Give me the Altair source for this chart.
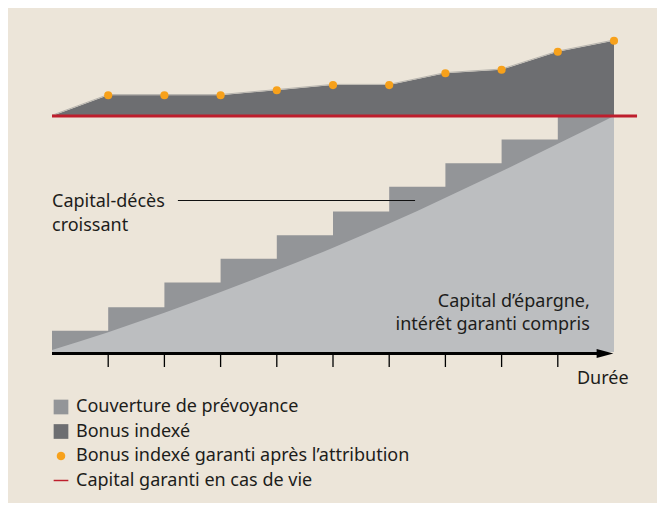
import math
import altair as alt
import pandas as pd

FONT = "Noto Sans"
TXT = "#1d1d1b"
BG = "#ece5d9"
FS = 18

# ---- data ----
periods = list(range(11))                       # Durée 0..10
couverture = [9, 19, 29.5, 39.5, 49.5, 59.5, 70, 80, 90, 100, 100]   # capital-décès (step)
epargne = [0.8, 8.4, 16.6, 25.4, 34.6, 44.2, 54.4, 65.4, 76.6, 88.2, 100]
bonus = [100, 108.8, 108.8, 108.8, 110.9, 113.1, 113.1, 118.1, 119.6, 127.2, 131.9]
capital_garanti = 100
tick_values = list(range(1, 10))

legend_labels = [
    "Couverture de prévoyance",
    "Bonus indexé",
    "Bonus indexé garanti après l’attribution",
    "Capital garanti en cas de vie",
]
legend_colors = ["#939598", "#6d6e71", "#f7a11b", "#be1e2d"]


def polygon_path(r, n=20):
    pts = [(r * math.cos(2 * math.pi * i / n), r * math.sin(2 * math.pi * i / n)) for i in range(n)]
    return "M" + "L".join(f"{a:.3f},{b:.3f}" for a, b in pts) + "Z"


legend_shapes = [
    "M-1,-1L1,-1L1,1L-1,1Z",
    "M-1,-1L1,-1L1,1L-1,1Z",
    polygon_path(0.58),
    "M-1,-0.1L1,-0.1L1,0.1L-1,0.1Z",
]

df = pd.DataFrame({"x": periods, "couv": couverture, "epar": epargne, "bonus": bonus})
pts = df[df["x"] >= 1].reset_index(drop=True)
ticks_df = pd.DataFrame({"t": tick_values})
one = pd.DataFrame({"a": [0]})

xs = alt.Scale(domain=[0, 10], nice=False, zero=False)
ys = alt.Scale(domain=[0, 145.76], nice=False, zero=False)


def DX(v):
    return alt.X(datum=v, axis=None)


def DY(v):
    return alt.Y(datum=v, axis=None)


couv_layer = alt.Chart(df).mark_area(interpolate="step-after", color="#939598").encode(
    x=alt.X("x:Q", scale=xs, axis=None),
    y=alt.Y("couv:Q", scale=ys, axis=None),
    y2=alt.datum(0),
)

epar_layer = alt.Chart(df).mark_area(interpolate="monotone", color="#bcbec0").encode(
    x=alt.X("x:Q", scale=xs, axis=None),
    y=alt.Y("epar:Q", scale=ys, axis=None),
    y2=alt.datum(0),
)

bonus_layer = alt.Chart(df).mark_area(color="#6d6e71").encode(
    x=alt.X("x:Q", scale=xs, axis=None),
    y=alt.Y("bonus:Q", scale=ys, axis=None),
    y2=alt.datum(capital_garanti),
)

bonus_edge = alt.Chart(df).mark_line(color="#b7b4ae", strokeWidth=1, yOffset=-0.7).encode(
    x=alt.X("x:Q", scale=xs, axis=None),
    y=alt.Y("bonus:Q", scale=ys, axis=None),
)

red_rule = alt.Chart(one).mark_rule(color="#be1e2d", strokeWidth=2.8).encode(
    x=DX(0), x2=alt.datum(10.41), y=DY(capital_garanti)
)

points = alt.Chart(pts).mark_circle(color="#f7a11b", size=66, opacity=1).encode(
    x=alt.X("x:Q", scale=xs, axis=None),
    y=alt.Y("bonus:Q", scale=ys, axis=None),
)

leader = alt.Chart(one).mark_rule(color="#111111", strokeWidth=1.1).encode(
    x=DX(2.24), x2=alt.datum(6.46), y=DY(64.19)
)

# time axis: baseline, ticks and arrow head
axis_line = alt.Chart(one).mark_rule(color="black", strokeWidth=3.2).encode(
    x=DX(0), x2=alt.datum(9.8), y=DY(-0.63)
)
axis_ticks = alt.Chart(ticks_df).mark_rule(color="black", strokeWidth=1.3).encode(
    x=alt.X("t:Q", scale=xs, axis=None), y=DY(-0.6), y2=alt.datum(-6.36)
)
arrow = alt.Chart(one).mark_point(
    shape="M-1,-0.54L1,0L-1,0.54Z", size=279, filled=True, color="black",
    opacity=1, yOffset=1.5
).encode(x=DX(9.84), y=DY(0))


def label(text, x, y, align="left"):
    return alt.Chart(one).mark_text(
        text=text, align=align, baseline="alphabetic", font=FONT,
        fontSize=FS, color=TXT
    ).encode(x=DX(x), y=DY(y))


texts = [
    label("Capital-décès", 0, 61.6),
    label("croissant", 0, 51.4),
    label("Capital d’épargne,", 9.57, 19.1, "right"),
    label("intérêt garanti compris", 9.57, 9.3, "right"),
    label("Durée", 9.34, -13.6),
]

leg = alt.Legend(title=None, orient="none", legendX=0, legendY=390,
                 symbolSize=216, labelFontSize=FS, labelFont=FONT,
                 labelColor=TXT, rowPadding=6.5, labelOffset=6, padding=0,
                 symbolStrokeWidth=0, symbolOpacity=1, labelLimit=600)

legend_layer = alt.Chart(pd.DataFrame({"serie": legend_labels})).mark_point(
    filled=True, clip=True, size=10, opacity=1
).encode(
    x=DX(-50), y=DY(-500),
    color=alt.Color("serie:N", scale=alt.Scale(domain=legend_labels, range=legend_colors), legend=leg),
    shape=alt.Shape("serie:N", scale=alt.Scale(domain=legend_labels, range=legend_shapes), legend=leg),
)

chart = alt.layer(
    couv_layer, epar_layer, bonus_layer, bonus_edge, red_rule, points,
    leader, axis_line, axis_ticks, arrow, *texts, legend_layer
).properties(
    width=562, height=344,
    padding={"left": 44, "top": 0, "right": 43, "bottom": 151},
    autosize="none",
    background=BG,
).configure(font=FONT).configure_view(strokeWidth=0)

chart.save("out.html", embed_options={"renderer": "svg", "actions": False})
